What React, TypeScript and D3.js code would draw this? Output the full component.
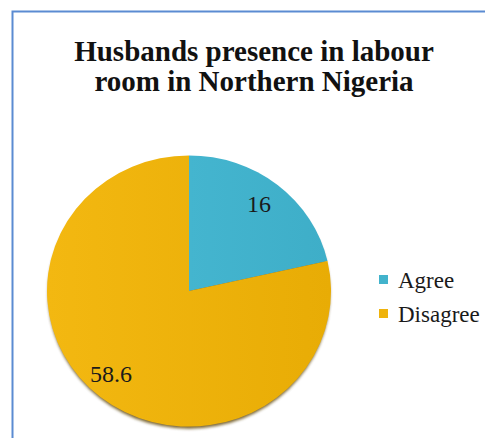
import React from "react";
import * as d3 from "d3";

const categories = ["Agree", "Disagree"];
const values = [16, 58.6];
const colors = ["#42b3cc", "#efb30c"];
const titleLines = ["Husbands presence in labour", "room in Northern Nigeria"];

const SERIF = "Liberation Serif, serif";

export default function App() {
  const W = 485, H = 438;
  const cx = 189, cy = 291, r = 142, sy = 0.955;
  const pie = d3.pie<number>().sort(null).value((d) => d)(values);
  const arc = d3.arc<d3.PieArcDatum<number>>().innerRadius(0).outerRadius(r);
  const labelPos = [
    [259, 212],
    [111, 382],
  ];
  return (
    <svg width={W} height={H} style={{ position: "absolute", left: 0, top: 0 }}>
      <defs>
        <linearGradient id="gY" x1="0" y1="0" x2="1" y2="0">
          <stop offset="0" stopColor="#f3b811" />
          <stop offset="1" stopColor="#e8ac05" />
        </linearGradient>
        <linearGradient id="gT" x1="0" y1="0" x2="1" y2="0">
          <stop offset="0" stopColor="#44b5cf" />
          <stop offset="1" stopColor="#3eaec8" />
        </linearGradient>
        <filter id="blur" x="-10%" y="-10%" width="120%" height="120%">
          <feGaussianBlur stdDeviation="1.5" />
        </filter>
      </defs>
      <rect width={W} height={H} fill="#fff" />
      <rect x={12.5} y={11.5} width={W + 20} height={H + 20} fill="none" stroke="#5b8bd2" strokeWidth={2} />
      {titleLines.map((t, i) => (
        <text key={i} x={254} y={61 + i * 30} textAnchor="middle" fontWeight="bold" fontSize={29} fill="#111" style={{ fontFamily: SERIF }}>
          {t}
        </text>
      ))}
      <g transform={`translate(${cx},${cy + 3}) scale(1,${sy})`}>
        <circle r={r - 1} fill="#5a4100" filter="url(#blur)" opacity={0.8} />
      </g>
      <g transform={`translate(${cx},${cy}) scale(1,${sy})`}>
        {pie.map((d, i) => (
          <path key={i} d={arc(d) || ""} fill={i === 0 ? "url(#gT)" : "url(#gY)"} />
        ))}
      </g>
      {values.map((v, i) => (
        <text key={i} x={labelPos[i][0]} y={labelPos[i][1]} textAnchor="middle" fontSize={24} fill="#1a1a1a" style={{ fontFamily: SERIF }}>
          {v}
        </text>
      ))}
      {categories.map((c, i) => (
        <g key={c} transform={`translate(379,${275 + i * 34})`}>
          <rect width={9} height={9} fill={colors[i]} />
          <text x={19} y={13} fontSize={23} fill="#1a1a1a" style={{ fontFamily: SERIF }}>
            {c}
          </text>
        </g>
      ))}
    </svg>
  );
}
